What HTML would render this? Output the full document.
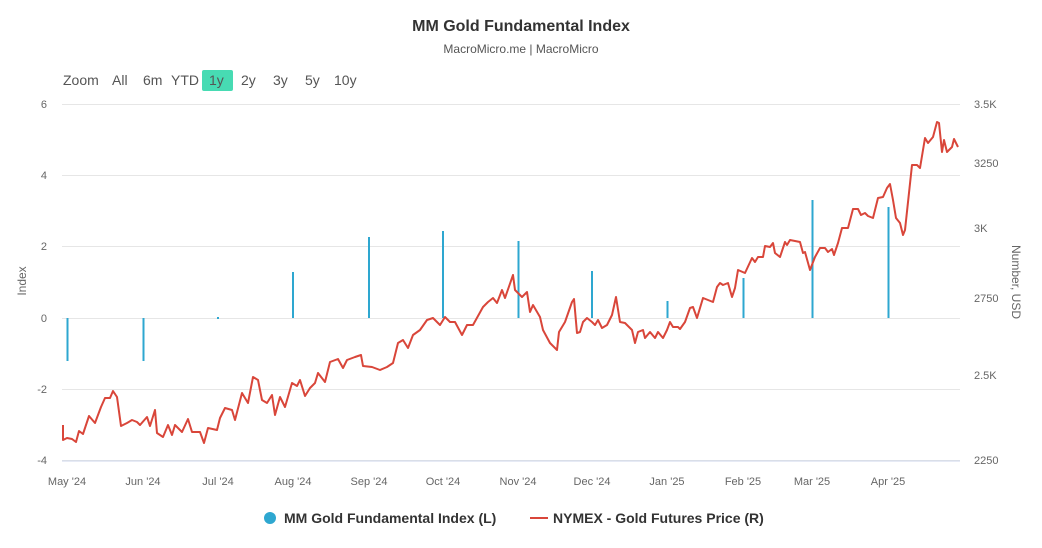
<!DOCTYPE html>
<html><head><meta charset="utf-8"><style>
html,body{margin:0;padding:0;background:#fff;}
svg{display:block;font-family:"Liberation Sans",sans-serif;}
</style></head><body>
<svg width="1042" height="548" viewBox="0 0 1042 548" xmlns="http://www.w3.org/2000/svg">
<rect width="1042" height="548" fill="#fff"/>
<text x="521" y="31" text-anchor="middle" font-size="16" font-weight="bold" fill="#333">MM Gold Fundamental Index</text>
<text x="521" y="53" text-anchor="middle" font-size="12" fill="#555">MacroMicro.me | MacroMicro</text>
<g font-size="14" fill="#555">
<text x="63" y="85">Zoom</text>
<text x="112" y="85">All</text>
<text x="143" y="85">6m</text>
<text x="171" y="85">YTD</text>
<rect x="202" y="70" width="31" height="21" rx="2" fill="#47dbb3"/>
<text x="209" y="85">1y</text>
<text x="241" y="85">2y</text>
<text x="273" y="85">3y</text>
<text x="305" y="85">5y</text>
<text x="334" y="85">10y</text>
</g>
<g stroke="#e6e6e6" stroke-width="1">
<line x1="62" y1="104.5" x2="960" y2="104.5"/>
<line x1="62" y1="175.5" x2="960" y2="175.5"/>
<line x1="62" y1="246.5" x2="960" y2="246.5"/>
<line x1="62" y1="318.5" x2="960" y2="318.5"/>
<line x1="62" y1="389.5" x2="960" y2="389.5"/>
<line x1="62" y1="460.5" x2="960" y2="460.5"/>
</g>
<g font-size="11" fill="#666" text-anchor="end">
<text x="47" y="108">6</text><text x="47" y="179">4</text><text x="47" y="250">2</text>
<text x="47" y="322">0</text><text x="47" y="393">-2</text><text x="47" y="464">-4</text>
</g>
<g font-size="11" fill="#666">
<text x="974" y="108">3.5K</text><text x="974" y="167">3250</text><text x="974" y="232">3K</text>
<text x="974" y="302">2750</text><text x="974" y="379">2.5K</text><text x="974" y="464">2250</text>
</g>
<text transform="translate(26,281) rotate(-90)" text-anchor="middle" font-size="12" fill="#666">Index</text>
<text transform="translate(1012,282) rotate(90)" text-anchor="middle" font-size="12" fill="#666">Number, USD</text>
<g font-size="11" fill="#666" text-anchor="middle">
<text x="67" y="485">May '24</text><text x="143" y="485">Jun '24</text><text x="218" y="485">Jul '24</text>
<text x="293" y="485">Aug '24</text><text x="369" y="485">Sep '24</text><text x="443" y="485">Oct '24</text>
<text x="518" y="485">Nov '24</text><text x="592" y="485">Dec '24</text><text x="667" y="485">Jan '25</text>
<text x="743" y="485">Feb '25</text><text x="812" y="485">Mar '25</text><text x="888" y="485">Apr '25</text>
</g>
<g stroke="#ccd6eb"><line x1="62" y1="461" x2="960" y2="461"/></g>
<g stroke="#2ea7d0" stroke-width="2">
<line x1="67.5" y1="318" x2="67.5" y2="361"/>
<line x1="143.5" y1="318" x2="143.5" y2="361"/>
<line x1="218" y1="317" x2="218" y2="319"/>
<line x1="293" y1="318" x2="293" y2="272"/>
<line x1="369" y1="318" x2="369" y2="237"/>
<line x1="443" y1="318" x2="443" y2="231"/>
<line x1="518.5" y1="318" x2="518.5" y2="241"/>
<line x1="592" y1="318" x2="592" y2="271"/>
<line x1="667.5" y1="318" x2="667.5" y2="301"/>
<line x1="743.5" y1="318" x2="743.5" y2="278"/>
<line x1="812.5" y1="318" x2="812.5" y2="200"/>
<line x1="888.5" y1="318" x2="888.5" y2="207"/>
</g>
<polyline fill="none" stroke="#d9463a" stroke-width="2" stroke-linejoin="round" points="63,425 63,440 67,438 72,439 76,442 79,431 83,434 89,416 95,423 101,407 105,398 110,398 113,391 117,397 121,426 127,423 132,420 137,422 140,425 147,417 150,426 155,410 157,433 163,437 168,425 172,435 175,425 182,432 188,419 192,432 200,432 204,443 208,428 217,430 220,418 225,408 232,410 235,420 242,393 248,403 253,377 258,380 262,400 267,403 272,395 275,415 280,397 285,407 292,383 297,386 300,380 305,396 310,388 315,383 318,373 325,382 330,362 338,359 343,368 347,360 355,357 361,355 363,366 372,367 380,370 387,367 393,363 398,343 403,340 408,348 413,335 420,330 427,320 433,318 440,325 445,317 450,322 455,322 462,335 467,325 473,325 483,307 488,302 493,298 497,303 502,290 505,298 513,275 515,290 522,297 527,292 530,312 533,305 540,317 543,330 550,343 557,350 559,332 565,322 572,302 574,299 577,333 580,332 583,322 587,318 592,322 595,325 598,320 602,328 607,325 612,315 616,297 620,322 625,323 632,330 635,343 638,332 643,330 645,338 650,332 655,338 658,332 663,338 667,330 670,322 673,327 678,327 680,329 685,322 690,308 693,307 697,318 703,298 708,300 713,302 717,287 720,283 723,285 728,283 732,297 735,288 738,270 745,273 752,258 755,262 758,257 763,257 765,246 770,247 773,243 775,253 780,257 785,242 787,245 790,240 800,242 803,253 805,252 810,270 815,257 820,248 825,248 828,252 832,249 834,255 838,243 842,228 848,228 853,209 858,209 861,215 865,213 868,216 873,218 878,198 883,197 887,188 890,184 893,200 896,218 900,223 903,235 905,230 912,165 917,165 920,168 925,138 928,143 933,137 937,122 939,123 942,152 944,140 947,152 952,147 954,139 958,147"/>
<circle cx="270" cy="518" r="6" fill="#2ea7d0"/>
<text x="284" y="523" font-size="14" font-weight="bold" fill="#333">MM Gold Fundamental Index (L)</text>
<line x1="530" y1="518" x2="548" y2="518" stroke="#d9463a" stroke-width="2"/>
<text x="553" y="523" font-size="14" font-weight="bold" fill="#333">NYMEX - Gold Futures Price (R)</text>
</svg>
</body></html>
